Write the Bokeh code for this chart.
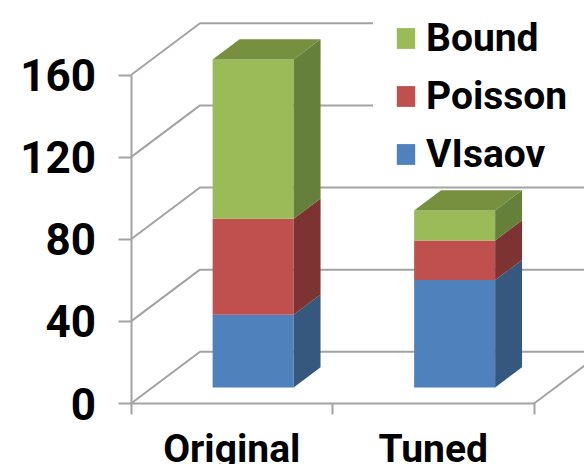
import numpy as np
from bokeh.embed import file_html
from bokeh.models import FixedTicker, Legend, LegendItem, LinearAxis, Range1d
from bokeh.plotting import figure
from bokeh.resources import INLINE

# Chart values
categories = ["Original", "Tuned"]
vlasov = [35.4, 52.3]
poisson = [46.8, 19.3]
bound = [77.6, 14.6]
series_names = ["VIsaov", "Poisson", "Bound"]
y_ticks = [0, 40, 80, 120, 160]

# Office-style colours: front, side and top of each stacked block
front = ["#4F81BD", "#C0504D", "#9BBB59"]
side = ["#36587F", "#7D3331", "#65803A"]
top_face = "#76903F"
grid = "#A3A3A3"

# Oblique projection: one unit of depth moves a point right and up
DEPTH_X = 0.3424
DEPTH_Y = 25.2
BAR_WIDTH = 0.402
BAR_NEAR = 0.31
BAR_FAR = 0.70
# Where the upper gridlines stop, short of the legend
GRID_STOP = {120: 0.8586, 160: 0.8586}


def project(x, y, z):
    return x + z * DEPTH_X, y + z * DEPTH_Y


p = figure(
    width=584, height=464, output_backend="svg", toolbar_location=None,
    x_range=Range1d(-130.5 / 201.5, 453.5 / 201.5),
    y_range=Range1d(-61 / 2.053, 403 / 2.053),
    min_border=0, min_border_left=0, min_border_right=0,
    min_border_top=0, min_border_bottom=0,
    x_axis_type=None, y_axis_type=None, outline_line_color=None,
)
p.grid.visible = False

# Back wall gridlines with their diagonals over to the front axis
for v in y_ticks:
    xs, ys = zip(project(0, v, 0), project(0, v, 1),
                 project(GRID_STOP.get(v, 3), v, 1))
    p.line(list(xs), list(ys), line_color=grid, line_width=2)

# Right edge of the floor
xs, ys = zip(project(2, 0, 0), project(2, 0, 1))
p.line(list(xs), list(ys), line_color=grid, line_width=2)

# Stacked 3D blocks
stacks = np.array([vlasov, poisson, bound])
tops = stacks.cumsum(axis=0)
bottoms = tops - stacks
x_centers = np.arange(len(categories)) + 0.5
face_renderers = []
for s in range(len(series_names)):
    left, base = project(x_centers - BAR_WIDTH / 2, bottoms[s], BAR_NEAR)
    right, roof = project(x_centers + BAR_WIDTH / 2, tops[s], BAR_NEAR)
    face_renderers.append(
        p.quad(left=left, right=right, bottom=base, top=roof,
               fill_color=front[s], line_color=None)
    )
    side_xs, side_ys = [], []
    for c in range(len(categories)):
        x_r = x_centers[c] + BAR_WIDTH / 2
        corners = [project(x_r, bottoms[s][c], BAR_NEAR),
                   project(x_r, bottoms[s][c], BAR_FAR),
                   project(x_r, tops[s][c], BAR_FAR),
                   project(x_r, tops[s][c], BAR_NEAR)]
        side_xs.append([q[0] for q in corners])
        side_ys.append([q[1] for q in corners])
    p.patches(side_xs, side_ys, fill_color=side[s], line_color=None)

# Lid of each column
lid_xs, lid_ys = [], []
for c in range(len(categories)):
    x_l = x_centers[c] - BAR_WIDTH / 2
    x_r = x_centers[c] + BAR_WIDTH / 2
    h = tops[-1][c]
    corners = [project(x_l, h, BAR_NEAR), project(x_r, h, BAR_NEAR),
               project(x_r, h, BAR_FAR), project(x_l, h, BAR_FAR)]
    lid_xs.append([q[0] for q in corners])
    lid_ys.append([q[1] for q in corners])
p.patches(lid_xs, lid_ys, fill_color=top_face, line_color=None)

# Axes sit inside the frame, pinned to the front corner
y_axis = LinearAxis(
    fixed_location=0, bounds=(0, 160), ticker=FixedTicker(ticks=y_ticks),
    axis_line_color=grid, axis_line_width=2,
    major_tick_line_color=grid, major_tick_line_width=2,
    major_tick_in=0, major_tick_out=13, minor_tick_out=0, minor_tick_in=0,
    major_label_standoff=22,
    major_label_text_font="Roboto",
    major_label_text_font_style="bold",
    major_label_text_font_size="44px",
    major_label_text_color="#000000",
)
p.add_layout(y_axis, "left")

x_axis = LinearAxis(
    fixed_location=0, bounds=(0, 2),
    ticker=FixedTicker(ticks=list(x_centers), minor_ticks=[0, 1, 2]),
    major_label_overrides={float(x): c for x, c in zip(x_centers, categories)},
    axis_line_color=grid, axis_line_width=2,
    major_tick_line_color=None, major_tick_in=0, major_tick_out=0,
    minor_tick_line_color=grid, minor_tick_line_width=2,
    minor_tick_in=0, minor_tick_out=11,
    major_label_standoff=11,
    major_label_text_font="Roboto",
    major_label_text_font_style="bold",
    major_label_text_font_size="39px",
    major_label_text_color="#000000",
)
p.add_layout(x_axis, "below")

legend = Legend(
    items=[LegendItem(label=series_names[s], renderers=[face_renderers[s]])
           for s in (2, 1, 0)],
    location=(394, 287), margin=0, padding=8,
    glyph_width=23, glyph_height=26, label_standoff=9, spacing=12,
    label_height=46,
    label_text_font="Roboto", label_text_font_style="bold",
    label_text_font_size="39px",
    label_text_color="#000000", border_line_color=None,
    background_fill_color="#FFFFFF", background_fill_alpha=1,
)
p.add_layout(legend)

open("out.html", "w").write(file_html(p, INLINE))
